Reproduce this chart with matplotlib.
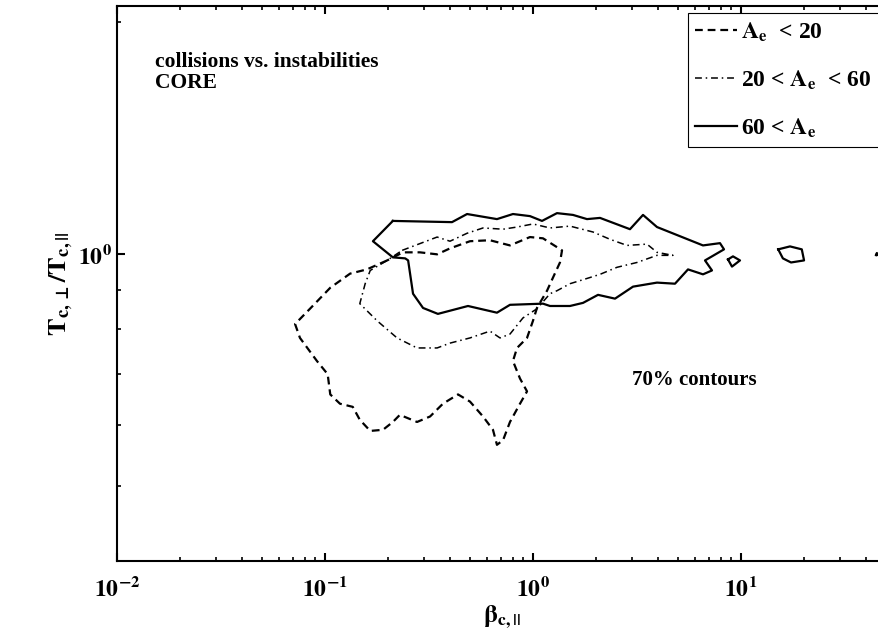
import math
import matplotlib
matplotlib.use("Agg")
import matplotlib.pyplot as plt
from matplotlib.ticker import FuncFormatter, NullFormatter, LogLocator

plt.rcParams['font.family'] = ['Liberation Serif', 'DejaVu Serif']
plt.rcParams['font.weight'] = 'bold'
plt.rcParams['mathtext.fontset'] = 'stix'

# 70% contours in the (beta_par, T_perp/T_par) plane, core electrons
# A_e < 20 (dashed)
beta_low = [0.199, 0.159, 0.132, 0.106, 0.0847, 0.0718, 0.0758, 0.0915, 0.103, 0.106,
            0.118, 0.136, 0.147, 0.165, 0.190, 0.212, 0.229, 0.277, 0.320, 0.369,
            0.436, 0.498, 0.575, 0.642, 0.671, 0.718, 0.775, 0.866, 0.936, 0.866,
            0.801, 0.838, 0.936, 1.0, 1.045, 1.168, 1.248, 1.348, 1.379, 1.117,
            0.967, 0.775, 0.621, 0.498, 0.399, 0.346, 0.286, 0.237, 0.199]
tratio_low = [0.982, 0.956, 0.944, 0.905, 0.850, 0.812, 0.779, 0.727, 0.699, 0.658,
              0.640, 0.634, 0.610, 0.590, 0.592, 0.606, 0.619, 0.606, 0.616, 0.640,
              0.658, 0.644, 0.616, 0.592, 0.566, 0.574, 0.606, 0.640, 0.664, 0.690,
              0.727, 0.756, 0.779, 0.820, 0.852, 0.897, 0.933, 0.976, 1.012, 1.049,
              1.053, 1.027, 1.043, 1.040, 1.018, 1.0, 1.006, 1.006, 0.982]

# 20 < A_e < 60 (dash-dot)
beta_mid = [0.235, 0.346, 0.399, 0.482, 0.575, 0.718, 0.838, 1.0, 1.207, 1.506,
            1.943, 2.345, 2.831, 3.532, 3.946, 4.710, 3.946, 3.162, 2.534, 2.10,
            1.740, 1.506, 1.304, 1.207, 1.045, 0.895, 0.775, 0.694, 0.621, 0.498,
            0.399, 0.346, 0.277, 0.222, 0.178, 0.147, 0.156, 0.165, 0.199, 0.235]
tratio_mid = [1.012, 1.053, 1.040, 1.065, 1.082, 1.078, 1.085, 1.095, 1.082, 1.088,
              1.069, 1.046, 1.027, 1.031, 1.006, 0.997, 0.997, 0.976, 0.962, 0.942,
              0.927, 0.916, 0.897, 0.889, 0.850, 0.827, 0.788, 0.779, 0.795, 0.779,
              0.767, 0.756, 0.756, 0.779, 0.820, 0.863, 0.916, 0.953, 0.982, 1.012]

# 60 < A_e (solid): main region plus small islands
beta_high = [0.212, 0.408, 0.482, 0.671, 0.801, 0.967, 1.105, 1.304, 1.557, 1.818,
             2.10, 2.926, 3.38, 3.946, 6.566, 7.925, 8.286, 6.713, 7.254, 6.566,
             5.562, 4.816, 3.946, 3.026, 2.479, 2.054, 1.740, 1.506, 1.207, 1.117,
             0.775, 0.671, 0.487, 0.349, 0.296, 0.265, 0.251, 0.243, 0.212, 0.170,
             0.212]
tratio_high = [1.105, 1.101, 1.128, 1.111, 1.128, 1.121, 1.105, 1.131, 1.125, 1.111,
               1.115, 1.078, 1.125, 1.085, 1.027, 1.034, 1.015, 0.982, 0.953, 0.942,
               0.956, 0.916, 0.919, 0.908, 0.876, 0.886, 0.865, 0.857, 0.857, 0.863,
               0.860, 0.840, 0.857, 0.837, 0.852, 0.889, 0.982, 0.988, 0.991, 1.040,
               1.105]
beta_island1 = [8.66, 9.15, 9.89, 9.05, 8.66]
tratio_island1 = [0.985, 0.994, 0.982, 0.964, 0.985]
beta_island2 = [15.1, 17.2, 19.6, 20.1, 17.4, 15.9, 15.1]
tratio_island2 = [1.015, 1.024, 1.015, 0.982, 0.976, 0.988, 1.015]
beta_island3 = [44.6, 45.4, 45.0, 44.6]
tratio_island3 = [0.998, 0.998, 1.004, 0.998]


def pow10_label(v, pos):
    return r'$\mathbf{10^{%d}}$' % round(math.log10(v))


fig = plt.figure(figsize=(8.79, 6.41), dpi=100)
ax = fig.add_axes([0.1331, 0.1248, 0.8753, 0.8658])
ax.set_xscale('log')
ax.set_yscale('log')
ax.set_xlim(0.01, 50)
ax.set_ylim(0.4, 2.1)

dashed = (0, (3.5, 2.2))
dashdot = (0, (4.5, 2.5, 1.0, 2.5))

ax.plot(beta_low, tratio_low, color='black', lw=1.6, linestyle=dashed,
        label=r'$\mathbf{A_e}$  < 20')
ax.plot(beta_mid, tratio_mid, color='black', lw=1.1, linestyle=dashdot,
        label=r'20 < $\mathbf{A_e}$  < 60')
ax.plot(beta_high, tratio_high, color='black', lw=1.6, linestyle='-',
        label=r'60 < $\mathbf{A_e}$')
for bx, ty in [(beta_island1, tratio_island1), (beta_island2, tratio_island2),
               (beta_island3, tratio_island3)]:
    ax.plot(bx, ty, color='black', lw=1.6, linestyle='-')

ax.xaxis.set_major_locator(LogLocator(base=10, numticks=10))
ax.xaxis.set_major_formatter(FuncFormatter(pow10_label))
ax.xaxis.set_minor_formatter(NullFormatter())
ax.yaxis.set_major_locator(LogLocator(base=10, numticks=10))
ax.yaxis.set_major_formatter(FuncFormatter(pow10_label))
ax.yaxis.set_minor_formatter(NullFormatter())

ax.tick_params(which='both', direction='in', top=True, right=True, labelsize=17)
ax.tick_params(which='major', length=6, width=1.5)
ax.tick_params(which='minor', length=3, width=1.2)
ax.tick_params(axis='x', which='major', pad=11.5)
ax.tick_params(axis='y', which='major', pad=4)
for s in ax.spines.values():
    s.set_linewidth(1.5)

ax.set_xlabel(r'$\mathrm{\beta}_{\mathbf{c},||}$', fontsize=18, labelpad=2)
ax.set_ylabel(r'$\mathbf{T}_{\mathbf{c},\bot}\mathbf{/T}_{\mathbf{c},||}$',
              fontsize=19, labelpad=2)

ax.text(0.049, 0.918, 'collisions vs. instabilities\nCORE', transform=ax.transAxes,
        fontsize=15.5, fontweight='bold', va='top', ha='left', linespacing=1.1)
ax.text(0.670, 0.326, '70% contours', transform=ax.transAxes,
        fontsize=15, fontweight='bold', va='center', ha='left')

leg = ax.legend(loc='upper right', bbox_to_anchor=(0.990, 0.987), borderaxespad=0,
                fancybox=False, framealpha=1, edgecolor='black', fontsize=17,
                handlelength=1.8, handletextpad=0.15, labelspacing=1.05,
                borderpad=0.3)
leg.get_frame().set_linewidth(0.8)

fig.savefig('out.png', dpi=100)
